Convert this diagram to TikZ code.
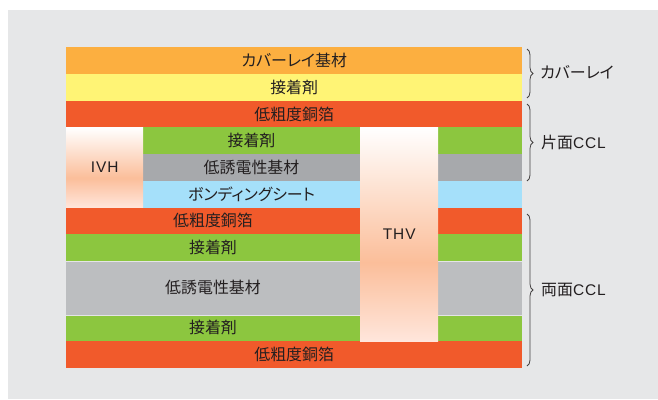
\documentclass[tikz,border=0pt]{standalone}
\usepackage{fontspec}
\setmainfont[RawFeature={+palt}]{Noto Sans CJK JP}
\newfontfamily\latinf[LetterSpace=6]{Liberation Sans}
\usetikzlibrary{decorations.pathreplacing}
\definecolor{bgc}{HTML}{E6E7E8}
\definecolor{coverc}{HTML}{FCAF40}
\definecolor{adhy}{HTML}{FFF475}
\definecolor{cuc}{HTML}{F15A2B}
\definecolor{adhg}{HTML}{8CC63F}
\definecolor{dielA}{HTML}{A7A9AC}
\definecolor{dielB}{HTML}{BCBEC0}
\definecolor{bondc}{HTML}{A5E0FA}
\definecolor{txtc}{HTML}{231F20}
\definecolor{viamid}{HTML}{FBBE9A}
\definecolor{viabot}{HTML}{FFE6DC}
\pgfdeclareverticalshading{viashade}{100bp}{color(0bp)=(viabot); color(25bp)=(viabot); color(43.5bp)=(viamid); color(75bp)=(white); color(100bp)=(white)}
\newcommand{\lblfont}{\fontsize{16}{18}\selectfont}
\newcommand{\latfont}{\latinf\fontsize{15.5}{18}\selectfont}
\begin{document}
\begin{tikzpicture}[x=1bp,y=-1bp,
  layer/.style={draw=none, inner sep=0pt, minimum width=456bp, minimum height=26.75bp, anchor=north west, font=\lblfont, text=txtc},
  lbl/.style={inner sep=0pt, font=\lblfont, text=txtc},
  via/.style={draw=none, inner sep=0pt, anchor=north west, shading=viashade, font=\latfont, text=txtc},
  brc/.style={draw=txtc!85, line width=0.8pt, decorate, decoration={brace, amplitude=6bp}},
  side/.style={inner sep=0pt, anchor=west, font=\lblfont, text=txtc}]
\useasboundingbox (0,0) rectangle (658,399);
\fill[white] (0,0) rectangle (658,399);
\fill[bgc] (8,10) rectangle (658,399);
% layers
\node[layer, fill=coverc] (L1) at (66,47) {カバーレイ基材};
\node[layer, fill=adhy] (L2) at (66,73.75) {接着剤};
\node[layer, fill=cuc] (L3) at (66,100.5) {低粗度銅箔};
\node[layer, fill=adhg] (L4) at (66,127.25) {};
\node[layer, fill=dielA] (L5) at (66,154) {};
\node[layer, fill=bondc] (L6) at (66,180.75) {};
\node[layer, fill=cuc] (L7) at (66,207.5) {};
\node[layer, fill=adhg] (L8) at (66,234.25) {};
\node[layer, fill=dielB, minimum height=53.5bp] (L9) at (66,261) {};
\node[layer, fill=adhg] (L10) at (66,314.5) {};
\node[layer, fill=cuc] (L11) at (66,341.25) {低粗度銅箔};
\draw[white!60!dielB, line width=0.8pt] (L9.north west) -- (L9.north east);
\draw[white!60!dielB, line width=0.8pt] (L9.south west) -- (L9.south east);
% labels in partial rows
\node[lbl] (t4) at (251.5,140.6) {接着剤};
\node[lbl] (t5) at (251.5,167.4) {低誘電性基材};
\node[lbl] (t6) at (251.5,194.1) {ボンディングシート};
\node[lbl] (t7) at (213,220.9) {低粗度銅箔};
\node[lbl] (t8) at (213,247.6) {接着剤};
\node[lbl] (t9) at (213,287.75) {低誘電性基材};
\node[lbl] (t10) at (213,327.9) {接着剤};
% vias
\node[via, minimum width=77bp, minimum height=80.25bp] (ivh) at (66,127.25) {IVH};
\node[via, minimum width=78bp, minimum height=214bp] (thv) at (360,127.25) {THV};
% braces
\coordinate (b1t) at (527,49);
\coordinate (b1b) at (527,98);
\coordinate (b2t) at (527,104);
\coordinate (b2b) at (527,181);
\coordinate (b3t) at (527,214);
\coordinate (b3b) at (527,366);
\draw[brc] (b1t) -- (b1b);
\draw[brc] (b2t) -- (b2b);
\draw[brc] (b3t) -- (b3b);
\node[side] (s1) at (540,72) {カバーレイ};
\node[side] (s2) at (541,142.5) {片面{\latfont CCL}};
\node[side] (s3) at (541,290) {両面{\latfont CCL}};
\end{tikzpicture}
\end{document}
